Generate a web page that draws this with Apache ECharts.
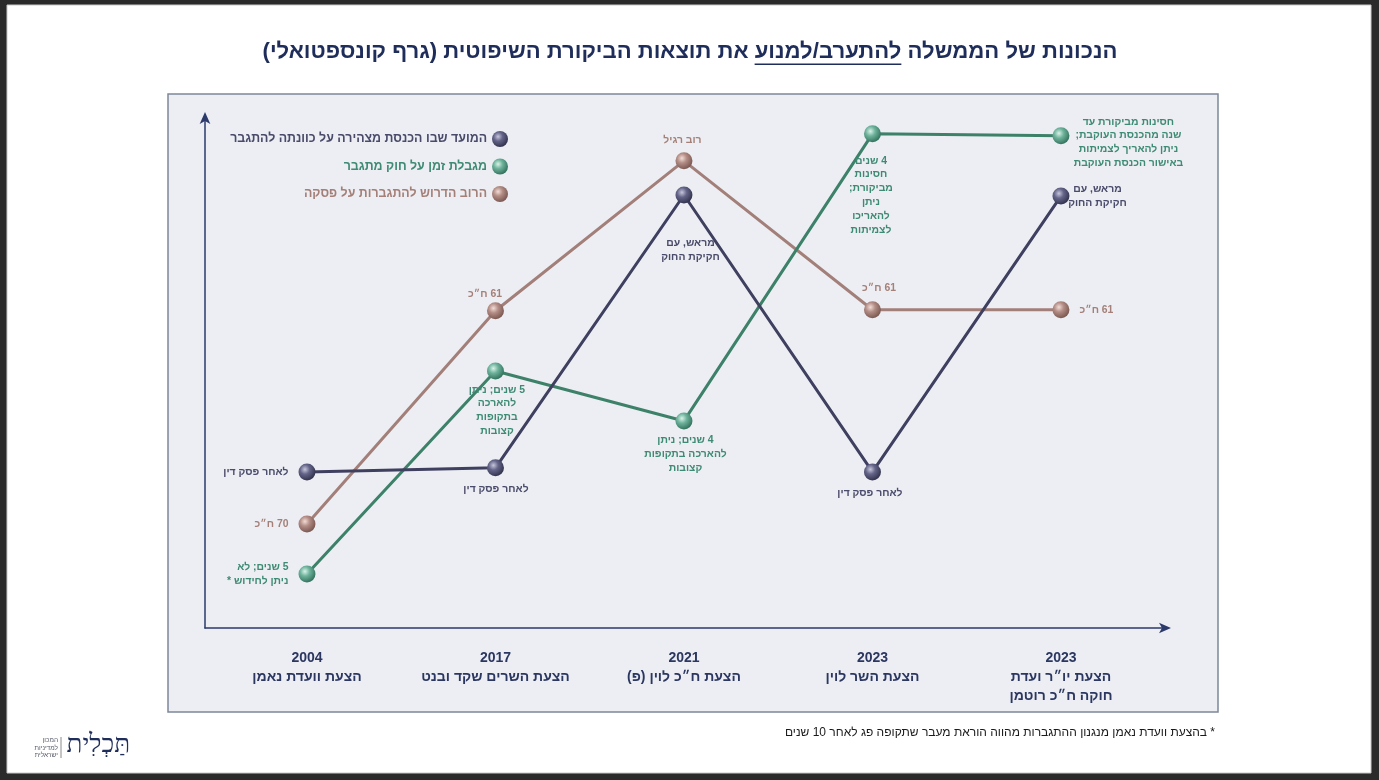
<!DOCTYPE html>
<html>
<head>
<meta charset="utf-8">
<script src="https://cdn.jsdelivr.net/npm/echarts@6/dist/echarts.min.js"></script>
<style>
  html, body { margin: 0; padding: 0; background: #2a2a2a; }
  #chart { width: 1379px; height: 780px; direction: rtl; }
</style>
</head>
<body>
<div id="chart"></div>
<script>
// proposals along the x axis
const years = ['2004', '2017', '2021', '2023', '2023'];
const proposals = ['הצעת וועדת נאמן', 'הצעת השרים שקד ובנט', 'הצעת ח״כ לוין (פ)', 'הצעת השר לוין', 'הצעת יו״ר ועדת\nחוקה ח״כ רוטמן'];

// conceptual level (0 = low willingness, 100 = high)
const timingValues = [30.6, 31.4, 84.9, 30.6, 84.7];
const limitValues = [10.6, 50.4, 40.6, 96.9, 96.5];
const majorityValues = [20.4, 62.2, 91.6, 62.4, 62.4];

const timingNotes = ['לאחר פסק דין', 'לאחר פסק דין', 'מראש, עם\nחקיקת החוק', 'לאחר פסק דין', 'מראש, עם\nחקיקת החוק'];
const limitNotes = [
  '5 שנים; לא\nניתן לחידוש *',
  '5 שנים; ניתן\nלהארכה\nבתקופות\nקצובות',
  '4 שנים; ניתן\nלהארכה בתקופות\nקצובות',
  '4 שנים\nחסינות\nמביקורת;\nניתן\nלהאריכו\nלצמיתות',
  'חסינות מביקורת עד\nשנה מהכנסת העוקבת;\nניתן להאריך לצמיתות\nבאישור הכנסת העוקבת'
];
const majorityNotes = ['70 ח״כ', '61 ח״כ', 'רוב רגיל', '61 ח״כ', '61 ח״כ'];

const seriesNames = ['המועד שבו הכנסת מצהירה על כוונתה להתגבר', 'מגבלת זמן על חוק מתגבר', 'הרוב הדרוש להתגברות על פסקה'];

const FONT = '"Liberation Sans", "DejaVu Sans", sans-serif';

// label placement: offset of label centre from the point
const at = (dx, dy) => ({ position: [8 + dx, 8 + dy], align: 'center', verticalAlign: 'middle' });
const timingPlace = [{ position: 'left', distance: 10 }, at(1, 22), at(7, 56), at(-2, 22), at(37, 1)];
const limitPlace = [{ position: 'left', distance: 10 }, at(2, 40), at(2, 34), at(-1, 62), at(68, 7)];
const majorityPlace = [{ position: 'left', distance: 10 }, at(-10, -16), at(-1, -20), at(7, -21), { position: 'right', distance: 10 }];

const sphere = (hi, mid, lo) => ({
  type: 'radial', x: 0.38, y: 0.35, r: 0.7,
  colorStops: [{ offset: 0, color: hi }, { offset: 0.4, color: mid }, { offset: 1, color: lo }]
});

const makeSeries = (name, values, notes, place, lineColor, textColor, ball) => ({
  name: name,
  type: 'line',
  data: values.map((v, i) => ({
    value: [i, v],
    label: Object.assign({ show: true, formatter: notes[i] }, place[i])
  })),
  symbol: 'circle',
  symbolSize: 17,
  itemStyle: { color: ball },
  lineStyle: { color: lineColor, width: 3 },
  label: { color: textColor, fontFamily: FONT, fontWeight: 'bold', fontSize: 10.4, lineHeight: 13.8 },
  emphasis: { disabled: true },
  animation: false
});

// title with underlined part
const titleA = 'הנכונות של הממשלה';
const titleU = 'להתערב/למנוע';
const titleB = 'את תוצאות הביקורת השיפוטית (גרף קונספטואלי)';
const meas = document.createElement('canvas').getContext('2d');
const textW = (t, f) => { meas.font = f; return meas.measureText(t).width; };
const fullW0 = textW(titleB + ' ' + titleU + ' ' + titleA, 'bold 22px ' + FONT);
const tSize = Math.min(26, 22 * 855 / fullW0);
const tFont = 'bold ' + tSize.toFixed(2) + 'px ' + FONT;
const wA = textW(titleA, tFont), wU = textW(titleU, tFont), wB = textW(titleB, tFont), wS = textW(' ', tFont);
const tTotal = wA + wU + wB + 2 * wS;
const tCx = 690, tY = 52;
const uX0 = tCx - tTotal / 2 + wB + wS;

const chart = echarts.init(document.getElementById('chart'));

chart.setOption({
  backgroundColor: '#2a2a2a',
  animation: false,
  graphic: [
    { type: 'rect', z: -2, silent: true, shape: { x: 7, y: 5, width: 1364, height: 768 }, style: { fill: '#ffffff', stroke: '#c9c9c9', lineWidth: 1 } },
    { type: 'rect', z: -1, silent: true, shape: { x: 168, y: 94, width: 1050, height: 618 }, style: { fill: '#eceef3', stroke: '#7e8699', lineWidth: 1.5 } },
    {
      type: 'text', silent: true,
      style: {
        text: '{t|' + titleB + '}{t| }{t|' + titleU + '}{t| }{t|' + titleA + '}',
        x: tCx, y: tY, align: 'center', verticalAlign: 'middle',
        rich: { t: { font: tFont, fill: '#1f2d5a' } }
      }
    },
    { type: 'line', silent: true, shape: { x1: uX0, y1: tY + tSize * 0.55, x2: uX0 + wU, y2: tY + tSize * 0.55 }, style: { stroke: '#1f2d5a', lineWidth: 1.5 } },
    {
      type: 'text', silent: true,
      style: { text: '* בהצעת וועדת נאמן מנגנון ההתגברות מהווה הוראת מעבר שתקופה פג לאחר 10 שנים', x: 1215, y: 733, align: 'right', verticalAlign: 'middle', font: '12px ' + FONT, fill: '#1a1a1a' }
    },
    {
      type: 'text', silent: true,
      style: { text: 'תַּכְלִית', x: 130, y: 745, align: 'right', verticalAlign: 'middle', font: '26px "Liberation Serif", "DejaVu Serif", serif', fill: '#1f2d5a' }
    },
    { type: 'line', silent: true, shape: { x1: 61, y1: 737, x2: 61, y2: 758 }, style: { stroke: '#8a8a8a', lineWidth: 1 } },
    {
      type: 'text', silent: true,
      style: { text: 'המכון\nלמדיניות\nישראלית', x: 58, y: 748, align: 'right', verticalAlign: 'middle', font: '6.5px ' + FONT, lineHeight: 7.5, fill: '#555a66' }
    }
  ],
  grid: { left: 205, right: 214, top: 118, bottom: 152 },
  xAxis: {
    type: 'value',
    min: -0.541,
    max: 4.552,
    splitLine: { show: false },
    axisTick: { show: false },
    axisLine: { show: true, onZero: false, lineStyle: { color: '#2c3a6b', width: 1.5 }, symbol: ['none', 'arrow'], symbolSize: [8, 12], symbolOffset: [0, 6] },
    axisLabel: {
      customValues: [0, 1, 2, 3, 4],
      margin: 20,
      formatter: v => '{y|' + years[v] + '}\n{n|' + proposals[v].split('\n').join('}\n{n|') + '}',
      rich: {
        y: { fontFamily: FONT, fontWeight: 'bold', fontSize: 14, color: '#2b3760', lineHeight: 20 },
        n: { fontFamily: FONT, fontWeight: 'bold', fontSize: 14, color: '#2b3760', lineHeight: 19 }
      }
    }
  },
  yAxis: {
    type: 'value',
    min: 0,
    max: 100,
    splitLine: { show: false },
    axisTick: { show: false },
    axisLabel: { show: false },
    axisLine: { show: true, onZero: false, lineStyle: { color: '#2c3a6b', width: 1.5 }, symbol: ['none', 'arrow'], symbolSize: [8, 12], symbolOffset: [0, 6] }
  },
  legend: {
    orient: 'vertical',
    right: 866,
    top: 126,
    align: 'right',
    icon: 'circle',
    itemWidth: 16,
    itemHeight: 16,
    itemGap: 11.5,
    selectedMode: false,
    textStyle: { fontFamily: FONT, fontWeight: 'bold', fontSize: 12.4 },
    data: [
      { name: seriesNames[0], textStyle: { color: '#4a4a6a' } },
      { name: seriesNames[1], textStyle: { color: '#3e8a72' } },
      { name: seriesNames[2], textStyle: { color: '#a58079' } }
    ]
  },
  series: [
    makeSeries(seriesNames[2], majorityValues, majorityNotes, majorityPlace, '#a37f79', '#a58079', sphere('#f2dcd6', '#b38d86', '#76534d')),
    makeSeries(seriesNames[1], limitValues, limitNotes, limitPlace, '#3d8169', '#3e8a72', sphere('#d9f2e8', '#6fb39c', '#2e6d58')),
    makeSeries(seriesNames[0], timingValues, timingNotes, timingPlace, '#3f3f5f', '#4a4a6a', sphere('#c6c6da', '#65658a', '#2e2e48'))
  ]
});
</script>
</body>
</html>
